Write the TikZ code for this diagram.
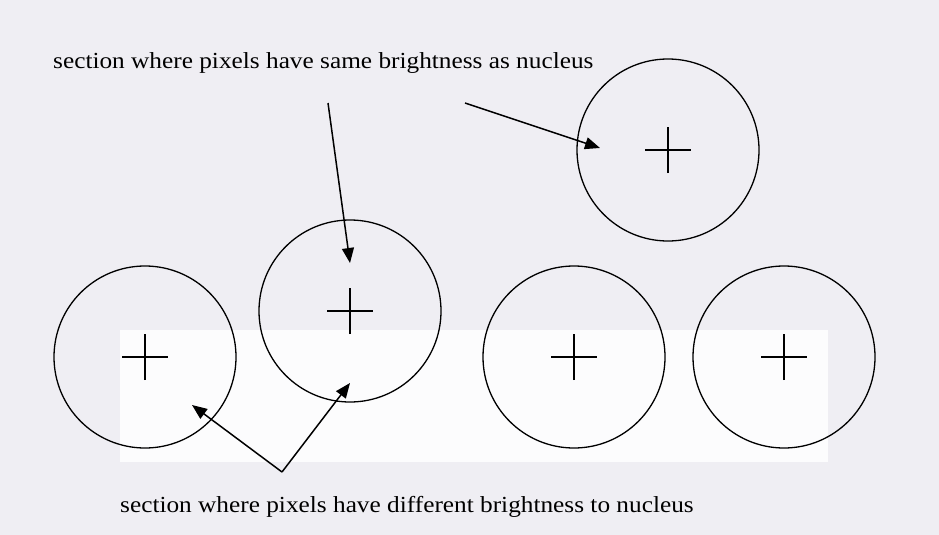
\documentclass[tikz,border=0pt]{standalone}
\usepackage{fontspec}
\usepackage{graphicx}
\setmainfont{Liberation Serif}
\usetikzlibrary{arrows.meta}
\definecolor{scanbg}{RGB}{239,238,243}
\definecolor{scanlight}{RGB}{252,252,253}
\tikzset{
  cell/.style={circle, draw=black, line width=1.3pt, minimum size=182pt, inner sep=0pt},
  crossmark/.style={line width=1.3pt},
  pointer/.style={line width=1.5pt, -{Triangle[length=15pt,width=12pt]}},
  label/.style={anchor=base west, inner sep=0pt, font=\fontsize{23}{26}\selectfont}
}
\begin{document}
\begin{tikzpicture}[x=1pt,y=-1pt]
\useasboundingbox (0,0) rectangle (939,535);
\fill[scanbg] (0,0) rectangle (939,535);
\fill[scanlight] (120,330) rectangle (828,462);

% cells
\node[cell] (c1) at (668,150) {};
\node[cell] (c2) at (145,357) {};
\node[cell] (c3) at (350,311) {};
\node[cell] (c4) at (574,357) {};
\node[cell] (c5) at (784,357) {};

% nuclei crosses
\foreach \c in {c1,c2,c3,c4,c5}{
  \draw[crossmark] ([xshift=-23pt]\c.center) -- ([xshift=23pt]\c.center);
  \draw[crossmark] ([yshift=-23pt]\c.center) -- ([yshift=23pt]\c.center);
}

% labels
\node[label] (top) at (53,69) {\scalebox{1.1}[1]{section where pixels have same brightness as nucleus}};
\node[label] (bot) at (120,512) {\scalebox{1.1}[1]{section where pixels have different brightness to nucleus}};

% arrow coordinates
\coordinate (a1s) at (328,103);
\coordinate (a1e) at (350,263);
\coordinate (a2s) at (465,103);
\coordinate (a2e) at (600,148);
\coordinate (apex) at (282,472);
\coordinate (b1e) at (192,405);
\coordinate (b2e) at (350,383);

\draw[pointer] (a1s) -- (a1e);
\draw[pointer] (a2s) -- (a2e);
\draw[pointer] (apex) -- (b1e);
\draw[pointer] (apex) -- (b2e);
\end{tikzpicture}
\end{document}
